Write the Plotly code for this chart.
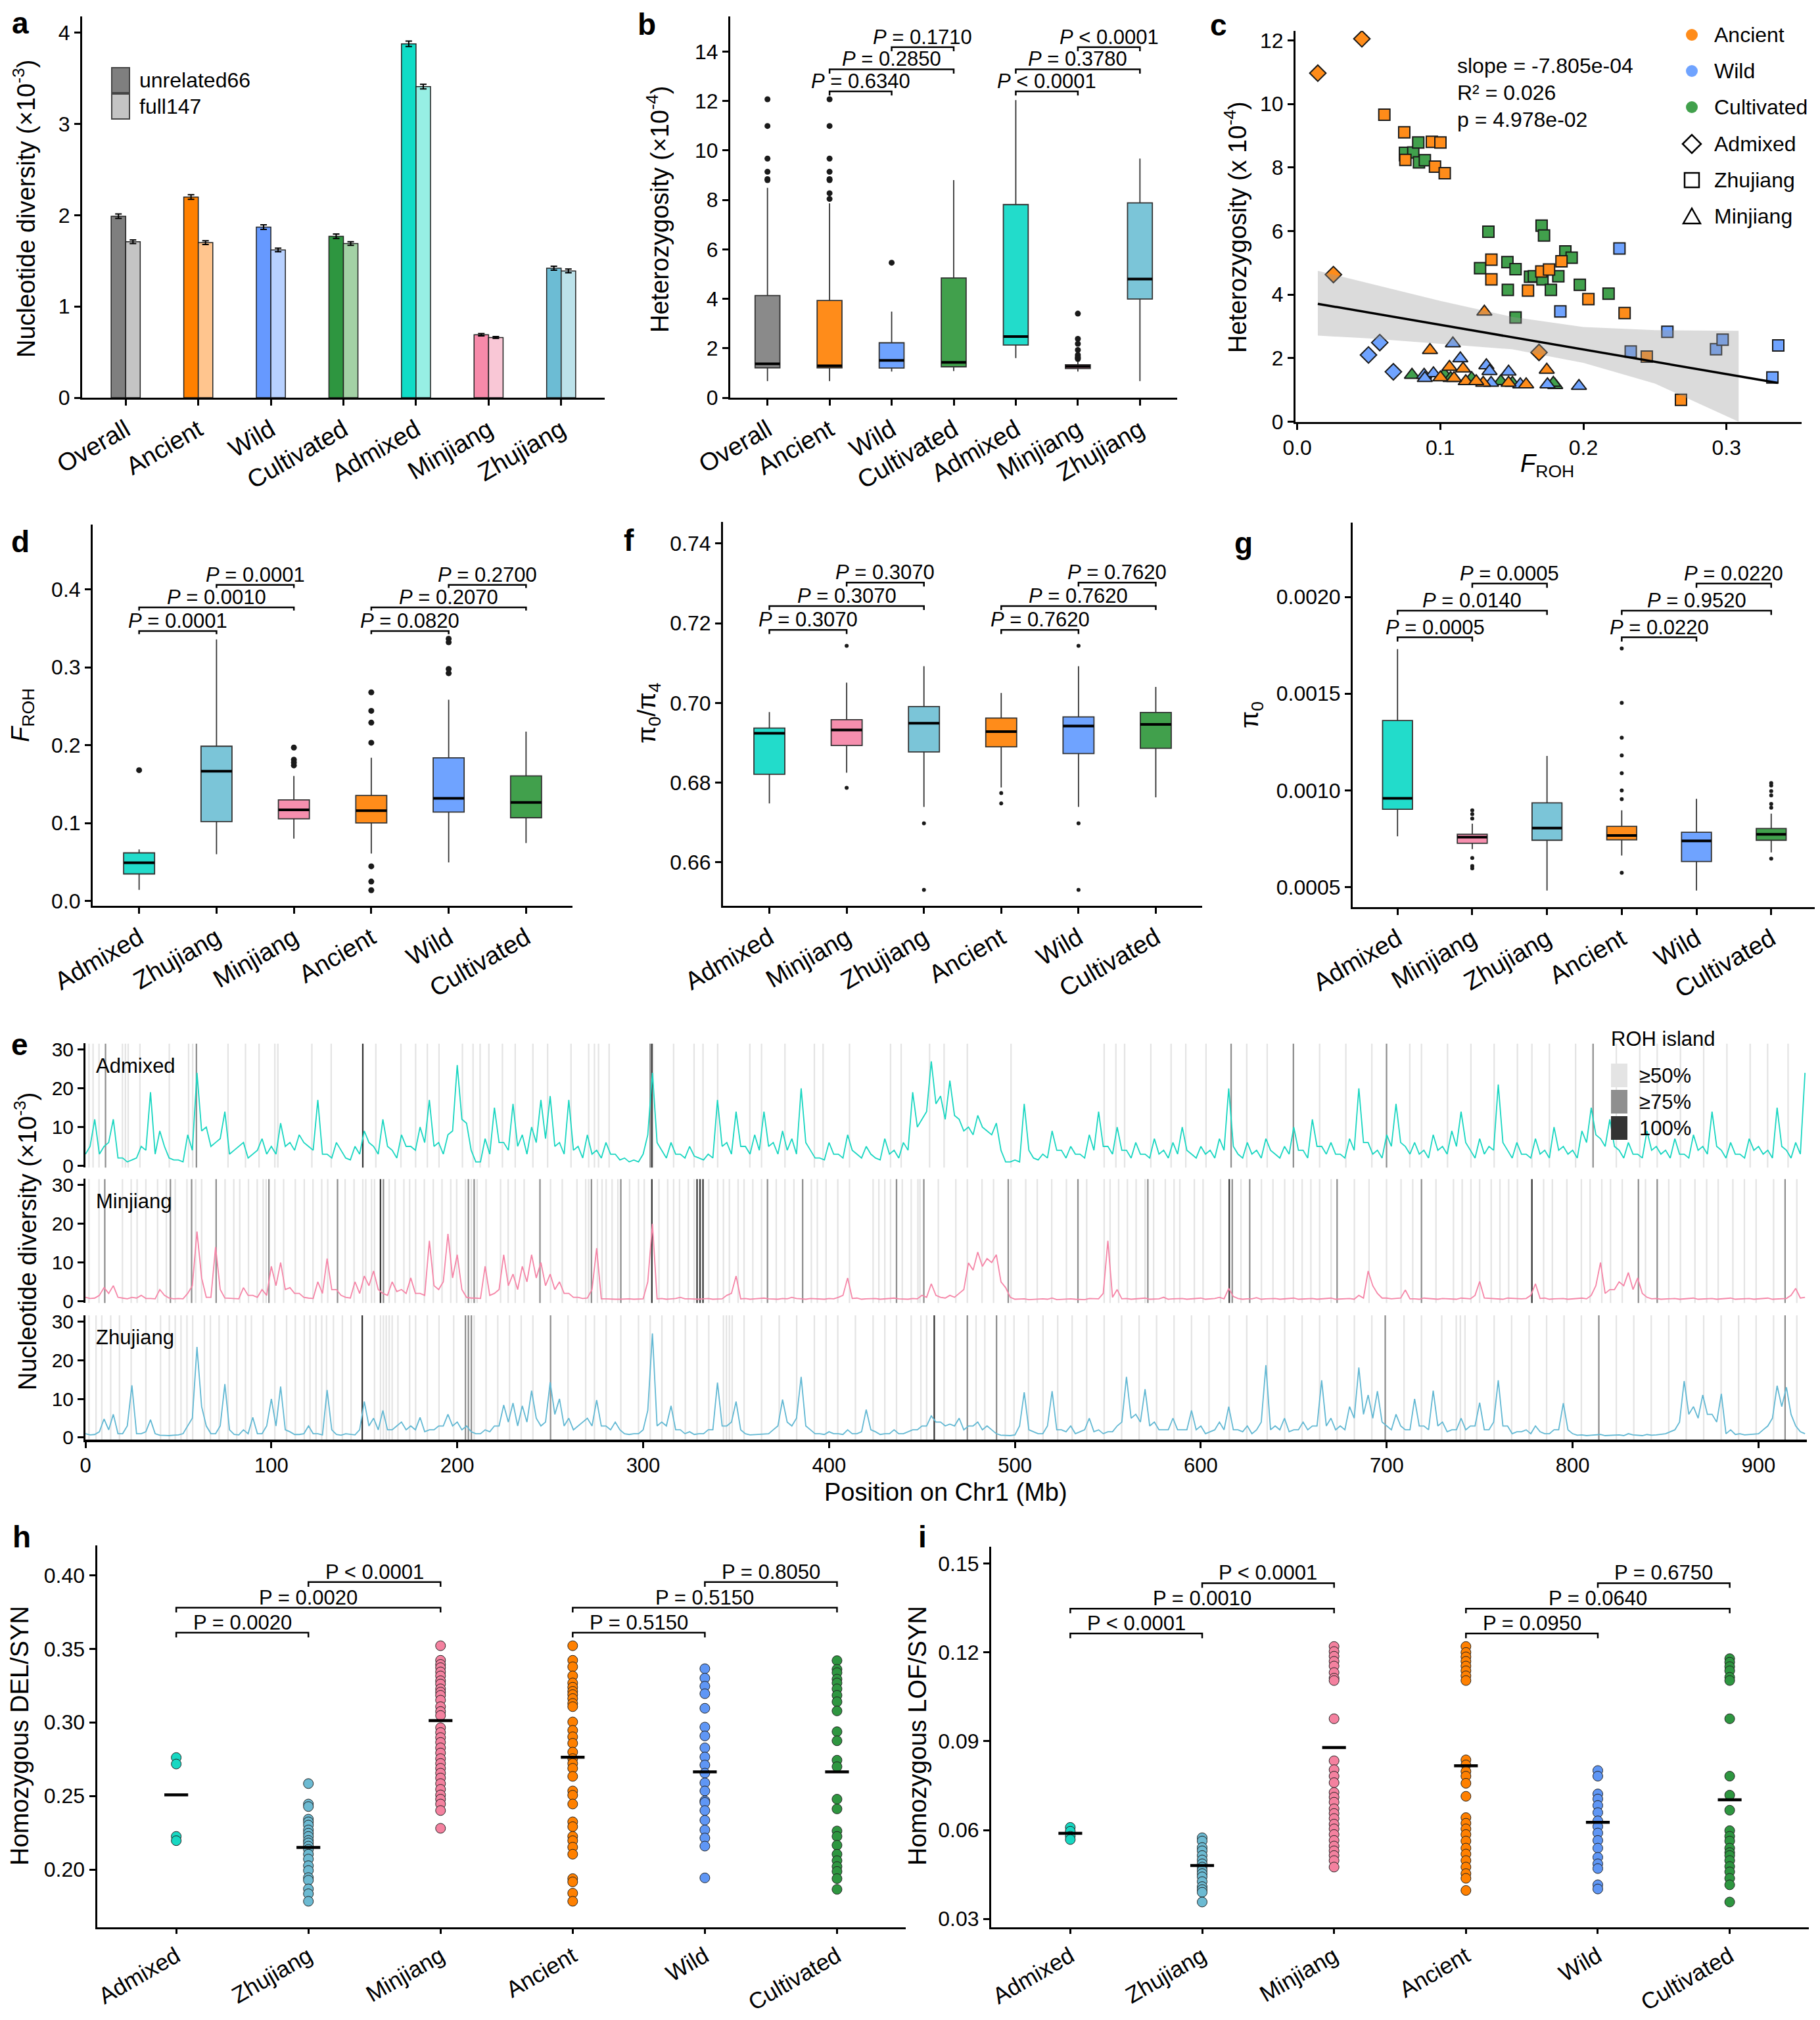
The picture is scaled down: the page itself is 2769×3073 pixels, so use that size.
import plotly.graph_objects as go

W, H = 2769, 3073
FONT = "Liberation Sans, Arial, Helvetica, sans-serif"

# population colours
pop_dark = {"Overall": "#7f7f7f", "Ancient": "#ff8000", "Wild": "#6699ff", "Cultivated": "#2e9640",
            "Admixed": "#10dcc6", "Minjiang": "#f78aaa", "Zhujiang": "#6cbcd4"}
pop_light = {"Overall": "#c4c4c4", "Ancient": "#ffc58e", "Wild": "#b8d1ff", "Cultivated": "#a3d1a5",
             "Admixed": "#97efe4", "Minjiang": "#f9c7d6", "Zhujiang": "#bce2ea"}
box_col = {"Overall": "#8a8a8a", "Ancient": "#ff8c1a", "Wild": "#6fa3ff", "Cultivated": "#41a04c",
           "Admixed": "#22dccb", "Minjiang": "#f68fae", "Zhujiang": "#7bc5d8"}
dot_col = {"Admixed": "#17d8c2", "Zhujiang": "#6cbad2", "Minjiang": "#f4819f",
           "Ancient": "#ff8000", "Wild": "#5f96f5", "Cultivated": "#2e9640"}

# ---------- a: nucleotide diversity
a_groups = ["Overall", "Ancient", "Wild", "Cultivated", "Admixed", "Minjiang", "Zhujiang"]
a_unrel66 = [1.99, 2.20, 1.87, 1.77, 3.88, 0.69, 1.42]
a_full147 = [1.71, 1.70, 1.62, 1.69, 3.41, 0.66, 1.39]
a_err66 = [0.025, 0.025, 0.025, 0.025, 0.03, 0.012, 0.022]
a_err147 = [0.02, 0.02, 0.02, 0.02, 0.025, 0.01, 0.02]
a_sets = ["unrelated66", "full147"]

# ---------- b: heterozygosity boxes
b_groups = a_groups
b_q1 = [1.21, 1.21, 1.20, 1.25, 2.13, 1.18, 3.99]
b_med = [1.37, 1.29, 1.51, 1.43, 2.47, 1.26, 4.80]
b_q3 = [4.13, 3.93, 2.22, 4.84, 7.81, 1.33, 7.88]
b_lo = [0.67, 0.67, 1.06, 1.08, 1.60, 1.06, 0.67]
b_hi = [8.49, 7.86, 3.48, 8.80, 12.04, 1.50, 9.67]
b_out = {"Overall": [12.07, 10.99, 9.67, 9.14, 8.84, 8.80],
         "Ancient": [12.07, 10.99, 9.67, 9.14, 8.84, 8.80, 8.27, 8.04],
         "Wild": [5.46],
         "Minjiang": [3.40, 2.38, 2.18, 1.93, 1.73, 1.65, 1.60, 1.57]}
b_pairs = [(1, 2), (1, 3), (2, 3), (4, 5), (4, 6), (5, 6)]
b_levels = [12.39, 13.28, 14.18, 12.39, 13.28, 14.18]
b_ptext = ["<i>P</i> = 0.6340", "<i>P</i> = 0.2850", "<i>P</i> = 0.1710",
           "<i>P</i> < 0.0001", "<i>P</i> = 0.3780", "<i>P</i> < 0.0001"]

# ---------- c: heterozygosity vs FROH
c_dia_froh = [0.0144, 0.0452, 0.0253, 0.1690, 0.0577, 0.0498, 0.0672]
c_dia_het = [10.97, 12.05, 4.63, 2.18, 2.49, 2.10, 1.57]
c_dia_pop = ["Ancient", "Ancient", "Ancient", "Ancient", "Wild", "Wild", "Wild"]
c_sq_froh = [0.0609, 0.0748, 0.0756, 0.0941, 0.1001, 0.0963, 0.1031, 0.1357, 0.1357, 0.1613, 0.1706,
             0.1760, 0.1847, 0.2035, 0.2288, 0.2443, 0.2682,
             0.0753, 0.0753, 0.0811, 0.0846, 0.0851, 0.0892, 0.1336, 0.1278, 0.1469, 0.1526, 0.1472,
             0.1526, 0.1627, 0.1654, 0.1708, 0.1725, 0.1714, 0.1773, 0.1825, 0.1874, 0.1918, 0.1975, 0.2176,
             0.2252, 0.1839, 0.2331, 0.2587, 0.2927, 0.2973, 0.3362, 0.3321]
c_sq_het = [9.66, 9.11, 8.24, 8.81, 8.79, 8.03, 7.82, 5.10, 4.48, 4.13, 4.73, 4.79, 5.05, 3.86, 3.42, 2.05, 0.69,
            8.39, 8.46, 8.47, 8.79, 8.16, 8.23, 5.98, 4.83, 5.02, 4.80, 4.15, 3.28, 4.56, 4.58, 6.17, 5.86,
            4.48, 4.15, 4.58, 5.36, 5.16, 4.31, 4.03,
            5.45, 3.47, 2.21, 2.83, 2.28, 2.58, 2.40, 1.39]
c_sq_pop = ["Ancient"] * 17 + ["Cultivated"] * 23 + ["Wild"] * 8
c_tri_froh = [0.1308, 0.0928, 0.1744, 0.1064, 0.1159, 0.1001, 0.1178, 0.1300, 0.1477, 0.1600, 0.1251, 0.1096,
              0.1088, 0.1140, 0.1322, 0.1344, 0.1477, 0.0887, 0.0952, 0.1969, 0.1749, 0.1559, 0.1355, 0.0892,
              0.0802, 0.1028, 0.1072, 0.1423, 0.1803, 0.1790, 0.1219, 0.1504]
c_tri_het = [3.46, 2.25, 1.63, 1.72, 1.67, 1.39, 1.27, 1.22, 1.22, 1.17, 1.27, 1.37,
             2.46, 1.99, 1.77, 1.59, 1.57, 1.47, 1.52, 1.12, 1.17, 1.17, 1.22, 1.37,
             1.47, 1.49, 1.37, 1.27, 1.15, 1.22, 1.37, 1.22]
c_tri_pop = ["Ancient"] * 12 + ["Wild"] * 12 + ["Cultivated"] * 8
c_fit_x = [0.0144, 0.3359]
c_fit_y = [3.71, 1.22]
c_band_x = [0.0144, 0.05, 0.10, 0.15, 0.20, 0.25, 0.3085]
c_band_hi = [4.75, 4.35, 3.80, 3.30, 2.98, 2.88, 2.86]
c_band_lo = [2.71, 2.62, 2.45, 2.28, 1.85, 1.20, 0.0]
c_stats = ["slope = -7.805e-04", "R² = 0.026", "p = 4.978e-02"]
c_legend_pops = ["Ancient", "Wild", "Cultivated"]
c_legend_shapes = ["Admixed", "Zhujiang", "Minjiang"]

# ---------- d: FROH boxes
d_groups = ["Admixed", "Zhujiang", "Minjiang", "Ancient", "Wild", "Cultivated"]
d_q1 = [0.0348, 0.1019, 0.1056, 0.1003, 0.1142, 0.1069]
d_med = [0.0491, 0.1666, 0.1171, 0.1159, 0.1318, 0.1265]
d_q3 = [0.0618, 0.1986, 0.1298, 0.1355, 0.1838, 0.1605]
d_lo = [0.0143, 0.0602, 0.0802, 0.0610, 0.0495, 0.0745]
d_hi = [0.0663, 0.3357, 0.1605, 0.1838, 0.2583, 0.2174]
d_out = {"Admixed": [0.1679], "Minjiang": [0.1969, 0.1814, 0.1777, 0.1740],
         "Ancient": [0.2678, 0.2440, 0.2289, 0.2031, 0.0446, 0.0250, 0.0139],
         "Wild": [0.3365, 0.3320, 0.2977, 0.2923]}
six_pairs = [(0, 1), (0, 2), (1, 2), (3, 4), (3, 5), (4, 5)]
d_levels = [0.3464, 0.3767, 0.4057, 0.3464, 0.3767, 0.4057]
d_ptext = ["<i>P</i> = 0.0001", "<i>P</i> = 0.0010", "<i>P</i> = 0.0001",
           "<i>P</i> = 0.0820", "<i>P</i> = 0.2070", "<i>P</i> = 0.2700"]

# ---------- f: pi0/pi4 boxes
f_groups = ["Admixed", "Minjiang", "Zhujiang", "Ancient", "Wild", "Cultivated"]
f_q1 = [0.6821, 0.6893, 0.6877, 0.6890, 0.6873, 0.6886]
f_med = [0.6924, 0.6932, 0.6949, 0.6928, 0.6942, 0.6946]
f_q3 = [0.6937, 0.6958, 0.6991, 0.6962, 0.6965, 0.6976]
f_lo = [0.6748, 0.6825, 0.6739, 0.6788, 0.6739, 0.6763]
f_hi = [0.6977, 0.7051, 0.7092, 0.7025, 0.7092, 0.7040]
f_out = {"Minjiang": [0.7143, 0.6787], "Zhujiang": [0.6698, 0.6531],
         "Ancient": [0.6774, 0.6748], "Wild": [0.7143, 0.6698, 0.6531]}
f_levels = [0.7183, 0.7243, 0.7302, 0.7183, 0.7243, 0.7302]
f_ptext = ["<i>P</i> = 0.3070"] * 3 + ["<i>P</i> = 0.7620"] * 3

# ---------- g: pi0 boxes
g_groups = f_groups
g_q1 = [0.000902, 0.000726, 0.000742, 0.000744, 0.000632, 0.000742]
g_med = [0.000959, 0.000758, 0.000805, 0.000767, 0.000739, 0.000773]
g_q3 = [0.001361, 0.000773, 0.000935, 0.000814, 0.000783, 0.000803]
g_lo = [0.000762, 0.000696, 0.000482, 0.000663, 0.000482, 0.000679]
g_hi = [0.001730, 0.000828, 0.001178, 0.000897, 0.000956, 0.000880]
g_out = {"Minjiang": [0.000897, 0.000877, 0.000854, 0.000650, 0.000609, 0.000597],
         "Ancient": [0.001733, 0.001452, 0.001272, 0.001180, 0.001089, 0.000999, 0.000954, 0.000574],
         "Cultivated": [0.001038, 0.001025, 0.000996, 0.000974, 0.000930, 0.000910, 0.000647]}
g_levels = [0.001791, 0.001929, 0.002069, 0.001791, 0.001929, 0.002069]
g_ptext = ["<i>P</i> = 0.0005", "<i>P</i> = 0.0140", "<i>P</i> = 0.0005",
           "<i>P</i> = 0.0220", "<i>P</i> = 0.9520", "<i>P</i> = 0.0220"]

# ---------- e: diversity along Chr1, read at 0, 5, 10 ... Mb and at the 2.5 Mb midpoints
e_pos = list(range(0, 930, 5))
e_mid_pos = [p + 2.5 for p in range(0, 925, 5)]
e_admixed = [3, 12, 5, 12, 2, 1.5, 5, 19, 9, 2,
             1.5, 8, 24, 10, 6, 14, 4, 6, 3, 7,
             5, 11, 6, 8, 5, 17, 3, 6, 2, 5,
             9, 5, 12, 4, 8, 5, 10, 17, 6, 8,
             26, 11, 1, 7, 15, 6, 16, 8, 10, 17,
             18, 6, 17, 5, 8, 4, 6, 3, 2, 1.5,
             3, 24, 4, 6, 3, 5, 2, 3, 17, 6,
             14, 5, 8, 14, 6, 9, 7, 20, 4, 2,
             6, 3, 8, 3, 5, 2, 7, 4, 6, 19,
             12, 27, 18, 22, 12, 10, 13, 9, 11, 1,
             1.5, 16, 2, 3, 9, 4, 5, 3, 8, 14,
             5, 10, 4, 6, 3, 7, 4, 6, 10, 3,
             5, 4, 7, 20, 3, 6, 4, 7, 3, 5,
             10, 4, 12, 5, 6, 3, 7, 20, 6, 4,
             8, 16, 5, 6, 4, 8, 5, 9, 14, 4,
             7, 5, 21, 4, 6, 3, 7, 4, 10, 5,
             4, 9, 15, 7, 12, 4, 6, 3, 9, 5,
             4, 7, 3, 8, 5, 14, 4, 6, 3, 7,
             5, 4, 15, 4, 6, 24]
e_admixed_mid = [5, 3, 6, 2, 1, 2, 4, 3, 5, 1.5,
                 1, 4, 9, 5, 7, 3, 5, 2, 4, 3,
                 3, 5, 4, 6, 4, 3, 2, 4, 1.5, 3,
                 6, 3, 5, 2, 5, 4, 6, 5, 3, 9,
                 12, 4, 1, 3, 6, 4, 5, 3, 6, 7,
                 5, 3, 4, 2, 3, 2, 3, 1.5, 1, 1,
                 8, 6, 2, 3, 2, 2.5, 1.5, 2, 5, 3,
                 5, 3, 4, 5, 3, 4, 3, 6, 2, 1.5,
                 3, 2, 4, 2, 3, 1.5, 3, 2, 4, 10,
                 14, 16, 12, 13, 9, 8, 10, 8, 4, 1,
                 1, 4, 1.5, 2, 4, 2, 3, 2, 4, 5,
                 3, 4, 2, 3, 2, 3, 2, 3, 4, 2,
                 3, 2, 4, 5, 2, 3, 2, 4, 2, 3,
                 4, 2, 5, 3, 3, 2, 4, 6, 3, 2,
                 5, 6, 3, 3, 2, 4, 3, 5, 6, 2,
                 3, 4, 6, 2, 3, 2, 3, 2, 4, 3,
                 2, 6, 8, 5, 5, 2, 3, 2, 4, 3,
                 2, 3, 2, 4, 3, 5, 2, 3, 2, 4,
                 3, 2, 5, 2, 3]
e_minjiang = [1, 0.8, 3.5, 4, 0.8, 1, 1.5, 0.7, 3, 0.8,
              0.7, 2, 18, 1, 14, 0.8, 0.7, 3.5, 1.5, 3,
              9, 10, 3.5, 2, 0.8, 5, 11, 3, 1, 5,
              6.5, 7.8, 2, 5, 3, 6, 2, 15.6, 3, 17.4,
              12, 1, 0.8, 9, 2, 12, 7, 9, 12, 10,
              7, 5, 2, 1, 0.8, 13.7, 0.6, 0.5, 0.6, 0.5,
              0.6, 20, 0.7, 0.6, 1, 0.6, 0.5, 0.7, 0.6, 1.5,
              6.5, 0.7, 0.6, 0.8, 0.6, 0.7, 1, 0.6, 0.7, 0.6,
              0.7, 1, 6, 0.8, 0.6, 0.7, 0.6, 0.8, 0.6, 0.7,
              1.5, 4.5, 1, 1.5, 2, 9.9, 12.7, 11, 12, 3.5,
              0.5, 0.6, 0.5, 0.6, 0.8, 0.5, 0.6, 0.5, 0.7, 0.6,
              15.6, 3, 0.7, 0.6, 0.8, 0.6, 1, 0.6, 0.7, 0.6,
              0.8, 0.6, 1, 3.3, 0.7, 0.6, 0.9, 0.6, 0.7, 0.6,
              0.8, 0.6, 0.7, 0.6, 0.8, 0.6, 0.7, 1.5, 7.8, 2,
              0.8, 0.7, 2.9, 0.6, 0.8, 0.6, 0.7, 0.6, 0.8, 0.6,
              5.1, 0.7, 0.6, 0.8, 0.6, 0.7, 4.5, 0.8, 0.6, 0.7,
              0.6, 0.8, 1.5, 10, 3, 5, 7.4, 6, 1, 0.7,
              0.6, 0.7, 0.6, 0.8, 0.6, 0.7, 0.6, 0.8, 0.6, 0.7,
              0.6, 0.8, 0.6, 0.7, 3.3, 1]
e_minjiang_mid = [0.7, 1.5, 2, 1, 0.6, 0.8, 0.7, 0.6, 1.5, 0.6,
                  0.6, 4, 6, 1, 3, 0.7, 0.6, 1.5, 1, 1.5,
                  4, 3, 2, 1, 0.7, 2, 3, 1.5, 0.8, 2,
                  4, 3, 1.5, 2.5, 2, 2, 1.5, 4, 5, 6,
                  3, 0.8, 0.7, 1.5, 3, 4, 3, 5, 6, 4,
                  3, 2, 1, 0.7, 3, 0.6, 0.5, 0.5, 0.6, 0.5,
                  5, 0.6, 0.5, 0.7, 0.6, 0.5, 0.6, 0.5, 0.6, 2,
                  0.6, 0.5, 0.7, 0.6, 0.5, 0.6, 0.7, 0.5, 0.6, 0.5,
                  0.6, 1.5, 0.7, 0.5, 0.6, 0.5, 0.7, 0.6, 0.5, 0.6,
                  1, 1.5, 0.8, 1, 3, 8, 9, 10, 5, 1,
                  0.5, 0.4, 0.6, 0.5, 0.4, 0.6, 0.5, 0.4, 0.6, 2,
                  1, 0.6, 0.5, 0.7, 0.5, 0.6, 0.5, 0.7, 0.5, 0.6,
                  0.5, 0.7, 0.6, 1.2, 0.5, 0.6, 0.5, 0.7, 0.5, 0.6,
                  0.5, 0.6, 0.5, 0.7, 0.5, 0.6, 0.5, 0.8, 4, 0.8,
                  0.6, 0.8, 0.6, 0.5, 0.7, 0.5, 0.6, 0.5, 0.7, 1.5,
                  0.8, 0.6, 0.5, 0.7, 0.6, 1.5, 0.7, 0.5, 0.6, 0.5,
                  0.7, 0.6, 4, 2, 3, 4, 3, 2, 0.6, 0.5,
                  0.6, 0.5, 0.7, 0.5, 0.6, 0.5, 0.7, 0.5, 0.6, 0.5,
                  0.7, 0.5, 0.6, 1.5, 0.8]
e_zhujiang = [1, 0.8, 4.8, 6, 1, 13.5, 1, 4.6, 0.6, 0.5,
              0.7, 3, 23.4, 3, 1, 13.8, 0.8, 2, 5.2, 1,
              10, 13.2, 1.5, 0.8, 3, 1, 12.3, 0.8, 1, 0.7,
              9.3, 5, 7, 2, 4, 3, 5.2, 2, 3, 6,
              4, 3, 1, 2, 3, 8.4, 8.9, 8.2, 12.1, 3,
              14.3, 10, 5, 3, 5, 9.7, 3, 4, 1, 1,
              2, 26.9, 4, 8.2, 2, 1.5, 1, 2, 14.2, 3,
              9.3, 1, 0.8, 1, 2, 9.8, 3, 15.7, 2, 1,
              1.5, 1, 2, 1, 7.2, 1.5, 1, 2, 1, 2,
              3, 5.6, 4, 3.5, 5, 3, 4, 3, 1, 0.6,
              0.7, 11.7, 1.5, 1, 12, 2, 3, 1.5, 5, 2,
              1.5, 3, 15.7, 6, 12.5, 4, 2, 5, 2, 7,
              3, 1.5, 4, 8, 2, 3, 2, 18.7, 3, 5,
              2, 4, 3, 14.8, 5, 3, 8, 18.1, 11, 12,
              3, 6, 2, 10, 3, 12.1, 4, 2, 5, 3,
              9, 2, 14.8, 3, 1.5, 2, 3, 1, 2, 8.9,
              1, 0.7, 0.6, 0.8, 0.6, 0.7, 1, 0.6, 0.8, 0.7,
              1, 2, 14.6, 8, 11, 6, 11.3, 2, 1, 0.8,
              1, 3, 13.4, 13, 3, 1]
e_zhujiang_mid = [0.7, 1.5, 2, 1, 3, 1, 1.5, 1, 0.5, 0.6,
                  1, 5, 8, 1, 3, 2, 0.7, 1, 1, 3,
                  3, 2, 0.8, 1, 1, 0.7, 2, 0.6, 0.8, 2,
                  3, 2, 2, 3, 2, 2, 1.5, 2, 3, 3,
                  2, 1.5, 1, 1.5, 3, 4, 3, 4, 5, 4,
                  6, 3, 2, 4, 3, 3, 2, 2, 0.8, 1,
                  7, 3, 3, 2, 1, 0.8, 1, 2, 3, 4,
                  2, 0.7, 0.8, 1, 3, 4, 5, 3, 1, 0.8,
                  1, 0.8, 1, 1.5, 2, 0.8, 1, 1, 1.5, 2,
                  3, 4, 3, 3, 2, 3, 2, 2, 0.6, 0.5,
                  3, 2, 1, 3, 2, 1.5, 1, 2, 1.5, 1,
                  1.5, 4, 5, 4, 3, 2, 2, 2, 2, 2,
                  1, 2, 2, 2, 1.5, 1, 4, 2, 2, 1.5,
                  2, 2, 3, 3, 2, 2, 5, 6, 5, 4,
                  2, 3, 2, 3, 2, 3, 1.5, 2, 2, 3,
                  2, 4, 3, 1, 1.5, 1, 1.5, 1, 2, 2,
                  0.6, 0.5, 0.7, 0.5, 0.6, 0.5, 0.7, 0.5, 0.6, 0.8,
                  1.5, 4, 6, 5, 6, 4, 1, 0.8, 0.7, 0.8,
                  2, 5, 8, 6, 1.5]

roh_admixed_50 = [1.9, 4.1, 7.3, 19.9, 21.5, 23, 29.3, 45.1, 55.5, 57.7, 76.7, 86.1, 93.4, 101.9, 103.5,
                  121.8, 132.2, 156.2, 169.7, 177.6, 183.9, 190.2, 202.8, 208.5, 212.3, 217, 224.3, 231.2, 240.7,
                  248.6, 261.2, 270.7, 273.8, 276, 281.7, 305.4, 316.4, 327.4, 332.2, 340.1, 357.4, 363.7, 376.3,
                  392.1, 396.8, 411, 433.1, 438.8, 454.1, 461.9, 474.4, 497.9, 548, 554.3, 559, 573.1, 584,
                  591.9, 602.8, 624.7, 635.7, 663.9, 678, 692, 712.4, 718.7, 732.7, 745.3, 757.8, 770.3, 778.1,
                  787.5, 801.6, 823.5, 836.1, 845.5, 858, 870.5, 883, 895.5, 904.9, 915.9]
roh_admixed_75 = [10.8, 59.7, 303.8, 616.3, 649.8, 699.9, 811]
roh_admixed_100 = [149.2, 304.7]
roh_minjiang_50 = [1.9, 7.3, 19.9, 24.6, 27.8, 32.5, 38.8, 43.5, 48.3, 54.6, 59.3, 62.5, 75.1, 79.8, 83, 87.7,
                   92.4, 95.6, 97.2, 101.9, 106.6, 112.9, 117.7, 122.4, 127.1, 130.3, 139.7, 144.5, 149.2, 150.8,
                   153.9, 155.5, 163.4, 166.6, 171.3, 174.4, 177.6, 182.3, 187.1, 191.8, 196.5, 199.7, 204.4,
                   207.6, 210.7, 215.5, 223.3, 227.4, 231.2, 236, 250.2, 256.5, 264.4, 269.1, 270.7, 275.4,
                   277.9, 280.1, 283.3, 286.4, 292.7, 297.5, 300.6, 308.5, 313.2, 316.4, 319.6, 324.3, 327.4,
                   335.3, 340.1, 343.2, 346.4, 351.1, 354.3, 359, 363.7, 371.6, 376.3, 381.1, 390.5, 393.7,
                   398.4, 404.7, 411, 423.7, 426.8, 430, 433.1, 439.4, 444.2, 447.8, 448.9, 458.8, 468.2, 474.4,
                   482.3, 488.5, 497.9, 505.8, 512, 519.8, 527.7, 538.6, 548, 551.2, 555.8, 560.5, 565.2, 570,
                   574.6, 580.9, 585.6, 588.7, 596.5, 601.2, 610.6, 621.6, 632.6, 638.8, 645.1, 649.8, 654.5,
                   659.2, 663.9, 670.1, 682.6, 690.5, 699.9, 707.7, 714, 726.5, 735.9, 740.6, 745.3, 750, 756.2,
                   760.9, 765.6, 770.3, 784.4, 789.1, 796.9, 804.7, 809.4, 815.7, 820.4, 826.7, 839.2, 851.7,
                   858, 865.8, 872.1, 878.3, 886.2, 892.4, 898.7, 908.1, 920.6]
roh_minjiang_75 = [10.4, 45.7, 57.1, 70.3, 98.7, 135.6, 160.3, 206, 209.1, 244.5, 272.2, 288, 366.9, 385.8,
                   436.3, 451, 496.4, 533.9, 571.5, 616.9, 626.3, 673.3, 718.7, 835.4, 845.5, 914.3]
roh_minjiang_100 = [158.7, 304.7, 329, 330.6, 332.2, 615.3, 778.1]
roh_zhujiang_50 = [1.9, 5.7, 8.8, 13.6, 18.3, 24.6, 32.5, 40.4, 45.1, 48.3, 51.4, 54.6, 57.7, 64, 67.2, 71.9,
                   76.7, 81.4, 86.1, 89.3, 95.6, 101.9, 108.2, 112.9, 117.7, 120.8, 124, 127.1, 129.7, 133.4,
                   138.2, 142.9, 155.5, 158.7, 160.3, 161.8, 163.4, 165, 168.1, 174.4, 177.6, 183.9, 190.2,
                   198.1, 209.1, 215.5, 221.8, 228.1, 234.4, 240.7, 259.6, 269.1, 273.8, 280.1, 288, 297.5,
                   303.8, 310.1, 316.4, 322.7, 329, 335.3, 343.2, 344.8, 346.4, 347.9, 354.3, 363.7, 373.2,
                   382.6, 392.1, 398.4, 404.7, 414.2, 423.7, 430, 436.3, 444.2, 449.4, 452.5, 461.9, 468.2,
                   479.1, 483.8, 494.8, 499.5, 507.3, 515.1, 523, 530.8, 538.6, 548, 557.4, 566.8, 576.2, 585.6,
                   595, 604.4, 615.3, 624.7, 635.7, 645.1, 654.5, 663.9, 673.3, 682.6, 692, 709.3, 718.7, 729.6,
                   737.4, 739.6, 742.1, 748.4, 757.8, 767.2, 776.6, 786, 795.4, 804.7, 823.5, 832.9, 842.3,
                   851.7, 861.1, 870.5, 879.9, 889.3, 898.7, 908.1, 920.6]
roh_zhujiang_75 = [204.4, 206, 207.6, 250.2, 474.4, 490.1, 699.2, 814.1, 914.3]
roh_zhujiang_100 = [148.9, 456.6]
roh_levels = ["≥50%", "≥75%", "100%"]
roh_colors = ["#e4e4e4", "#8f8f8f", "#333333"]

# ---------- h / i: homozygous DEL/SYN and LOF/SYN
hi_groups = ["Admixed", "Zhujiang", "Minjiang", "Ancient", "Wild", "Cultivated"]
h_vals = {
    "Admixed": [0.2761, 0.2717, 0.2225, 0.2196],
    "Zhujiang": [0.2584, 0.2445, 0.2428, 0.2342, 0.2324, 0.2302, 0.2269, 0.2247, 0.2225, 0.2198, 0.2181,
                 0.2159, 0.2137, 0.2104, 0.2071, 0.2026, 0.1993, 0.1945, 0.1927, 0.1868, 0.1835, 0.1784],
    "Minjiang": [0.3521, 0.3422, 0.3394, 0.3372, 0.3343, 0.3316, 0.3283, 0.3261, 0.3228, 0.3206, 0.3184,
                 0.3151, 0.3107, 0.3074, 0.3047, 0.2964, 0.2931, 0.2897, 0.2864, 0.2827, 0.2792, 0.2754,
                 0.2721, 0.2688, 0.2655, 0.2622, 0.2584, 0.2545, 0.2507, 0.2478, 0.2445, 0.2401, 0.2280],
    "Ancient": [0.3521, 0.3422, 0.3378, 0.3316, 0.3268, 0.3239, 0.3211, 0.3189, 0.3162, 0.3129, 0.3107,
                0.3003, 0.2946, 0.2902, 0.2858, 0.2798, 0.2754, 0.2721, 0.2688, 0.2633, 0.2534, 0.2505,
                0.2445, 0.2324, 0.2291, 0.2225, 0.2196, 0.2152, 0.2104, 0.1938, 0.1916, 0.1839, 0.1784],
    "Wild": [0.3365, 0.3301, 0.3246, 0.3195, 0.3096, 0.2968, 0.2908, 0.2827, 0.2765, 0.2710, 0.2655,
             0.2589, 0.2534, 0.2467, 0.2456, 0.2401, 0.2335, 0.2269, 0.2214, 0.2159, 0.1943],
    "Cultivated": [0.3420, 0.3361, 0.3338, 0.3294, 0.3268, 0.3228, 0.3184, 0.3140, 0.3078, 0.2937, 0.2875,
                   0.2743, 0.2699, 0.2478, 0.2412, 0.2262, 0.2225, 0.2165, 0.2104, 0.2060, 0.2020, 0.1987,
                   0.1938, 0.1865]}
h_means = [0.2507, 0.2150, 0.3012, 0.2763, 0.2664, 0.2664]
h_levels = [0.3610, 0.3780, 0.3954, 0.3610, 0.3780, 0.3954]
h_ptext = ["P = 0.0020", "P = 0.0020", "P < 0.0001", "P = 0.5150", "P = 0.5150", "P = 0.8050"]

i_vals = {
    "Admixed": [0.0609, 0.0596, 0.0579, 0.0568],
    "Zhujiang": [0.0574, 0.0563, 0.0541, 0.0530, 0.0514, 0.0499, 0.0486, 0.0475, 0.0464, 0.0453, 0.0442,
                 0.0426, 0.0409, 0.0399, 0.0390, 0.0357],
    "Minjiang": [0.1220, 0.1203, 0.1187, 0.1170, 0.1154, 0.1132, 0.1113, 0.1105, 0.0976, 0.0834, 0.0804,
                 0.0782, 0.0760, 0.0727, 0.0711, 0.0694, 0.0672, 0.0656, 0.0639, 0.0620, 0.0604, 0.0585,
                 0.0565, 0.0546, 0.0530, 0.0514, 0.0497, 0.0475],
    "Ancient": [0.1220, 0.1200, 0.1185, 0.1170, 0.1154, 0.1138, 0.1121, 0.1105, 0.0837, 0.0820, 0.0798,
                0.0782, 0.0758, 0.0714, 0.0642, 0.0623, 0.0604, 0.0585, 0.0563, 0.0539, 0.0519, 0.0497,
                0.0475, 0.0453, 0.0437, 0.0396],
    "Wild": [0.0801, 0.0782, 0.0722, 0.0705, 0.0683, 0.0659, 0.0631, 0.0612, 0.0590, 0.0565, 0.0539,
             0.0508, 0.0486, 0.0470, 0.0415, 0.0401],
    "Cultivated": [0.1179, 0.1167, 0.1152, 0.1138, 0.1116, 0.1105, 0.0976, 0.0782, 0.0718, 0.0667, 0.0598,
                   0.0579, 0.0563, 0.0539, 0.0524, 0.0514, 0.0497, 0.0477, 0.0459, 0.0437, 0.0415, 0.0357]}
i_means = [0.0589, 0.0480, 0.0879, 0.0817, 0.0626, 0.0702]
i_levels = [0.1264, 0.1348, 0.1434, 0.1264, 0.1348, 0.1434]
i_ptext = ["P < 0.0001", "P = 0.0010", "P < 0.0001", "P = 0.0950", "P = 0.0640", "P = 0.6750"]


def px_x(v):
    return v / W


def px_y(v):
    return 1 - v / H


def names(n):
    return ("x" if n == 1 else f"x{n}"), ("y" if n == 1 else f"y{n}")


layout_axes = {}
shapes = []


def base_axis(**kw):
    d = dict(showline=True, linecolor="black", linewidth=3, ticks="outside", ticklen=9, tickwidth=2.5,
             tickcolor="black", showgrid=False, zeroline=False, automargin=False,
             tickfont=dict(family=FONT, size=32, color="black"))
    d.update(kw)
    return d


def add_axes(n, left, right, top, bottom, xkw, ykw):
    xn, yn = names(n)
    kx = "xaxis" if n == 1 else f"xaxis{n}"
    ky = "yaxis" if n == 1 else f"yaxis{n}"
    layout_axes[kx] = base_axis(domain=[px_x(left), px_x(right)], anchor=yn, **xkw)
    layout_axes[ky] = base_axis(domain=[px_y(bottom), px_y(top)], anchor=xn, **ykw)


def cat_axis(groups, right, size=38, ticklen=9):
    return dict(range=[-0.6, right], tickmode="array", tickvals=list(range(len(groups))), ticktext=groups,
                tickangle=-30, ticklen=ticklen, tickfont=dict(family=FONT, size=size, color="black"))


def text(x, y, t, size, xanchor="left", angle=0):
    fig.add_annotation(x=px_x(x), y=px_y(y), xref="paper", yref="paper", text=t, showarrow=False,
                       xanchor=xanchor, yanchor="middle", textangle=angle,
                       font=dict(family=FONT, size=size, color="black"))


def rect(x0, x1, y0, y1, fill, line_col=None, lw=0):
    shapes.append(dict(type="rect", xref="paper", yref="paper", x0=px_x(x0), x1=px_x(x1),
                       y0=px_y(y1), y1=px_y(y0), fillcolor=fill,
                       line=dict(color=line_col or fill, width=lw)))


def path(pts, fill, line_col, lw):
    p = "M " + " L ".join(f"{px_x(a):.5f},{px_y(b):.5f}" for a, b in pts) + " Z"
    shapes.append(dict(type="path", xref="paper", yref="paper", path=p, fillcolor=fill,
                       line=dict(color=line_col, width=lw)))


fig = go.Figure()


def add_boxes(n, groups, q1, med, q3, lo, hi, outliers, osize):
    xn, yn = names(n)
    for k, g in enumerate(groups):
        fig.add_trace(go.Box(x=[k], q1=[q1[k]], median=[med[k]], q3=[q3[k]], lowerfence=[lo[k]],
                             upperfence=[hi[k]], orientation="v", width=0.4, fillcolor=box_col[g],
                             line=dict(color="#333333", width=1.8), whiskerwidth=0, boxpoints=False,
                             showlegend=False, hoverinfo="skip", xaxis=xn, yaxis=yn))
    mx, my = [], []
    for k in range(len(groups)):
        mx += [k - 0.2, k + 0.2, None]
        my += [med[k], med[k], None]
    fig.add_trace(go.Scatter(x=mx, y=my, mode="lines", line=dict(color="black", width=4),
                             showlegend=False, hoverinfo="skip", xaxis=xn, yaxis=yn))
    ox, oy = [], []
    for k, g in enumerate(groups):
        for v in outliers.get(g, []):
            ox.append(k)
            oy.append(v)
    fig.add_trace(go.Scatter(x=ox, y=oy, mode="markers", marker=dict(size=osize, color="#1a1a1a"),
                             showlegend=False, hoverinfo="skip", xaxis=xn, yaxis=yn))


def add_brackets(n, pairs, levels, texts, drop, size=31):
    xn, yn = names(n)
    bx, by = [], []
    for (i, j), lv in zip(pairs, levels):
        bx += [i, i, j, j, None]
        by += [lv - drop, lv, lv, lv - drop, None]
    fig.add_trace(go.Scatter(x=bx, y=by, mode="lines", line=dict(color="black", width=2.5),
                             showlegend=False, hoverinfo="skip", xaxis=xn, yaxis=yn))
    for (i, j), lv, t in zip(pairs, levels, texts):
        fig.add_annotation(x=(i + j) / 2, y=lv, xref=xn, yref=yn, text=t, showarrow=False,
                           yanchor="bottom", yshift=-4, font=dict(family=FONT, size=size, color="black"))


# ---------------- panel a
add_axes(1, 117, 912, 17, 597, cat_axis(a_groups, 6.6),
         dict(range=[0, 4.18], tickvals=[0, 1, 2, 3, 4]))
for vals, errs, cols, off in [(a_unrel66, a_err66, pop_dark, -0.2), (a_full147, a_err147, pop_light, 0)]:
    fig.add_trace(go.Bar(x=list(range(7)), y=vals, offset=off, width=0.2, showlegend=False,
                         marker=dict(color=[cols[g] for g in a_groups], line=dict(color="#222222", width=1.5)),
                         error_y=dict(type="data", array=errs, color="black", thickness=2, width=5),
                         hoverinfo="skip", xaxis="x", yaxis="y"))
# legend of a
for k, (nm, col) in enumerate(zip(a_sets, [pop_dark["Overall"], pop_light["Overall"]])):
    rect(162, 189, 95 + 40 * k, 133 + 40 * k, col, "#444444", 2)
    text(202, 114 + 40 * k, nm, 32)

# ---------------- panel b
add_axes(2, 1103, 1783, 17, 597, cat_axis(b_groups, 6.6),
         dict(range=[0, 15.42], tickvals=list(range(0, 15, 2))))
add_boxes(2, b_groups, b_q1, b_med, b_q3, b_lo, b_hi, b_out, 9)
add_brackets(2, b_pairs, b_levels, b_ptext, 0.17)

# ---------------- panel c
add_axes(3, 1963, 2733, 39, 633.5,
         dict(range=[-0.0012, 0.3525], tickvals=[0, 0.1, 0.2, 0.3], tickformat=".1f"),
         dict(range=[0, 12.3], tickvals=list(range(0, 13, 2))))
shape_sets = [("diamond", c_dia_froh, c_dia_het, c_dia_pop, 19),
              ("square", c_sq_froh, c_sq_het, c_sq_pop, 17),
              ("triangle-up", c_tri_froh, c_tri_het, c_tri_pop, 20)]
for sym, xs, ys, ps, sz in shape_sets:
    for pop in ["Cultivated", "Wild", "Ancient"]:
        px_ = [x for x, p in zip(xs, ps) if p == pop]
        py_ = [y for y, p in zip(ys, ps) if p == pop]
        if not px_:
            continue
        fig.add_trace(go.Scatter(x=px_, y=py_, mode="markers",
                                 marker=dict(symbol=sym, size=sz, color=box_col[pop],
                                             line=dict(color="#1a1a1a", width=2)),
                                 showlegend=False, hoverinfo="skip", xaxis="x3", yaxis="y3"))
fig.add_trace(go.Scatter(x=c_band_x + c_band_x[::-1], y=c_band_hi + c_band_lo[::-1], fill="toself",
                         fillcolor="rgba(153,153,153,0.35)", line=dict(width=0), mode="lines",
                         showlegend=False, hoverinfo="skip", xaxis="x3", yaxis="y3"))
fig.add_trace(go.Scatter(x=c_fit_x, y=c_fit_y, mode="lines", line=dict(color="black", width=3.5),
                         showlegend=False, hoverinfo="skip", xaxis="x3", yaxis="y3"))
for k, t in enumerate(c_stats):
    text(2207, 92 + 41 * k, t, 32)
# legend of c (keys drawn in pixels)
leg_y = [45, 100, 155, 211, 266, 321]
for k, pop in enumerate(c_legend_pops):
    cy = leg_y[k]
    shapes.append(dict(type="circle", xref="paper", yref="paper", x0=px_x(2557), x1=px_x(2575),
                       y0=px_y(cy + 9), y1=px_y(cy - 9), fillcolor=box_col[pop], line=dict(width=0)))
    text(2598, cy, pop, 32)
cx = 2566
cy = leg_y[3]
path([(cx - 14, cy), (cx, cy - 14), (cx + 14, cy), (cx, cy + 14)], "rgba(0,0,0,0)", "black", 2.5)
cy = leg_y[4]
rect(cx - 11, cx + 11, cy - 11, cy + 11, "rgba(0,0,0,0)", "black", 2.5)
cy = leg_y[5]
path([(cx - 13, cy + 11), (cx, cy - 12), (cx + 13, cy + 11)], "rgba(0,0,0,0)", "black", 2.5)
for k, nm in enumerate(c_legend_shapes):
    text(2598, leg_y[3 + k], nm, 32)

# ---------------- panel d
add_axes(4, 133, 863, 790, 1370, cat_axis(d_groups, 5.6),
         dict(range=[-0.0061, 0.483], tickvals=[0, 0.1, 0.2, 0.3, 0.4], tickformat=".1f"))
add_boxes(4, d_groups, d_q1, d_med, d_q3, d_lo, d_hi, d_out, 9)
add_brackets(4, six_pairs, d_levels, d_ptext, 0.004)

# ---------------- panel f
add_axes(5, 1092, 1821, 786, 1370, cat_axis(f_groups, 5.6),
         dict(range=[0.6491, 0.7454], tickvals=[0.66, 0.68, 0.70, 0.72, 0.74], tickformat=".2f"))
add_boxes(5, f_groups, f_q1, f_med, f_q3, f_lo, f_hi, f_out, 6)
add_brackets(5, six_pairs, f_levels, f_ptext, 0.001)

# ---------------- panel g
add_axes(6, 2050, 2755, 787, 1371.5, cat_axis(g_groups, 5.6),
         dict(range=[0.000398, 0.002384], tickvals=[0.0005, 0.0010, 0.0015, 0.0020], tickformat=".4f"))
add_boxes(6, g_groups, g_q1, g_med, g_q3, g_lo, g_hi, g_out, 6)
add_brackets(6, six_pairs, g_levels, g_ptext, 0.000022)

# ---------------- panel e
e_rows = [(7, 1579.4, 1768.4, "Admixed", e_admixed, e_admixed_mid, "#19d6c1",
           [roh_admixed_50, roh_admixed_75, roh_admixed_100]),
          (8, 1785.4, 1974.4, "Minjiang", e_minjiang, e_minjiang_mid, "#f585a7",
           [roh_minjiang_50, roh_minjiang_75, roh_minjiang_100]),
          (9, 1992.9, 2181.9, "Zhujiang", e_zhujiang, e_zhujiang_mid, "#62b8d3",
           [roh_zhujiang_50, roh_zhujiang_75, roh_zhujiang_100])]
e_range = [-0.5, 31.6]
for n, top, bottom, label, series, mids, colr, rohs in e_rows:
    xn, yn = names(n)
    xkw = dict(range=[0, 926], tickvals=list(range(0, 901, 100)),
               tickfont=dict(family=FONT, size=31, color="black"))
    if n != 9:
        xkw.update(showline=False, ticks="", showticklabels=False)
    else:
        xkw.update(linewidth=4)
    add_axes(n, 122, 2741, top, bottom, xkw,
             dict(range=e_range, tickvals=[0, 10, 20, 30], tickfont=dict(family=FONT, size=30, color="black")))
    for pos, rc in zip(rohs, roh_colors):
        fig.add_trace(go.Bar(x=pos, y=[e_range[1] - e_range[0]] * len(pos), base=e_range[0],
                             offset=-0.4, width=0.8, marker=dict(color=rc, line=dict(width=0)),
                             showlegend=False, hoverinfo="skip", xaxis=xn, yaxis=yn))
    pts = sorted(list(zip(e_pos, series)) + list(zip(e_mid_pos, mids)))
    fig.add_trace(go.Scatter(x=[p for p, _ in pts], y=[v for _, v in pts], mode="lines",
                             line=dict(color=colr, width=1.8),
                             showlegend=False, hoverinfo="skip", xaxis=xn, yaxis=yn))
    text(136, top + 34, label, 31)
# legend of e
text(2441, 1572, "ROH island", 31)
for k, (lvl, rc) in enumerate(zip(roh_levels, roh_colors)):
    rect(2443, 2468, 1610 + 40 * k, 1646 + 40 * k, rc)
    text(2484, 1628 + 40 * k, lvl, 31)

# ---------------- panel h
add_axes(10, 139.5, 1370, 2343, 2924, cat_axis(hi_groups, 5.52, size=35, ticklen=7),
         dict(range=[0.1607, 0.4203], tickvals=[0.20, 0.25, 0.30, 0.35, 0.40], tickformat=".2f"))
# ---------------- panel i
add_axes(11, 1500, 2744, 2345, 2924, cat_axis(hi_groups, 5.6, size=35, ticklen=7),
         dict(range=[0.02715, 0.1557], tickvals=[0.03, 0.06, 0.09, 0.12, 0.15], tickformat=".2f"))
for n, vals, means, levels, texts, drop in [(10, h_vals, h_means, h_levels, h_ptext, 0.0033),
                                            (11, i_vals, i_means, i_levels, i_ptext, 0.0016)]:
    xn, yn = names(n)
    for k, g in enumerate(hi_groups):
        fig.add_trace(go.Scatter(x=[k] * len(vals[g]), y=vals[g], mode="markers",
                                 marker=dict(size=15, color=dot_col[g], line=dict(color="#222222", width=1)),
                                 showlegend=False, hoverinfo="skip", xaxis=xn, yaxis=yn))
    mx, my = [], []
    for k, m in enumerate(means):
        mx += [k - 0.09, k + 0.09, None]
        my += [m, m, None]
    fig.add_trace(go.Scatter(x=mx, y=my, mode="lines", line=dict(color="black", width=4.5),
                             showlegend=False, hoverinfo="skip", xaxis=xn, yaxis=yn))
    add_brackets(n, six_pairs, levels, texts, drop)

# ---------------- titles and panel letters
titles = [
    ("Nucleotide diversity (×10<sup>-3</sup>)", 29, 310, -90),
    ("Heterozygosity (×10<sup>-4</sup>)", 993, 311, -90),
    ("Heterozygosity (x 10<sup>-4</sup>)", 1872, 338, -90),
    ("<i>F</i><sub>ROH</sub>", 2346, 700, 0),
    ("<i>F</i><sub>ROH</sub>", 26, 1080, -90),
    ("π<sub>0</sub>/π<sub>4</sub>", 979, 1077, -90),
    ("π<sub>0</sub>", 1896, 1080, -90),
    ("Nucleotide diversity (×10<sup>-3</sup>)", 31, 1881, -90),
    ("Position on Chr1 (Mb)", 1431, 2262, 0),
    ("Homozygous DEL/SYN", 22, 2633, -90),
    ("Homozygous LOF/SYN", 1388, 2633, -90),
]
for t, x, y, ang in titles:
    text(x, y, t, 38, xanchor="center", angle=ang)
letters = [("a", 23, 27), ("b", 976, 29), ("c", 1846, 30), ("d", 23, 816), ("f", 949, 814),
           ("g", 1884, 818), ("e", 22, 1581), ("h", 25, 2330), ("i", 1395, 2330)]
for t, x, y in letters:
    text(x, y, f"<b>{t}</b>", 46, xanchor="center")

fig.update_layout(
    width=W, height=H, autosize=False, margin=dict(l=0, r=0, t=0, b=0),
    paper_bgcolor="white", plot_bgcolor="white", showlegend=False,
    font=dict(family=FONT, color="black"),
    shapes=shapes,
    **layout_axes,
)

fig.write_html("out.html")
